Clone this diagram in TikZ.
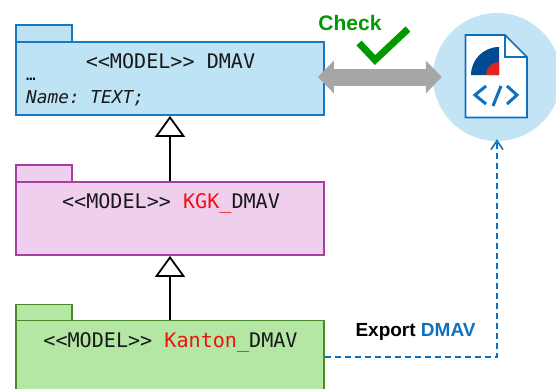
\documentclass[tikz,border=0pt]{standalone}
\usepackage{fontspec}
\setmainfont{Liberation Sans}
\setmonofont{DejaVu Sans Mono}
\usetikzlibrary{arrows.meta}
\definecolor{bluefill}{HTML}{BEE3F5}
\definecolor{blueline}{HTML}{1878C0}
\definecolor{pinkfill}{HTML}{F0CFEE}
\definecolor{pinkline}{HTML}{A83FA0}
\definecolor{greenfill}{HTML}{B4E6A4}
\definecolor{greenline}{HTML}{4A8A2E}
\definecolor{circfill}{HTML}{C2E4F5}
\definecolor{checkgreen}{HTML}{009900}
\definecolor{arrgray}{HTML}{A6A6A6}
\definecolor{logoblue}{HTML}{004B91}
\definecolor{logored}{HTML}{E02424}
\definecolor{textred}{HTML}{F01010}
\definecolor{exportblue}{HTML}{0F70BE}
\tikzset{
  pkgbody/.style={draw=#1,line width=1.8pt,minimum width=308pt,minimum height=73pt,inner sep=0pt,rectangle},
  pkgtab/.style={draw=#1,line width=1.8pt,minimum width=56pt,minimum height=17pt,inner sep=0pt,rectangle},
  modeltext/.style={font=\ttfamily\fontsize{20.1}{24}\selectfont,inner sep=0pt,anchor=base,text=black!90},
  inherit/.style={draw=black,line width=1.8pt,-{Triangle[open,length=21pt,width=30pt,fill=white,line width=1.8pt]}},
  docline/.style={draw=exportblue,line width=1.6pt,line join=miter},
  codeline/.style={draw=exportblue,line width=3pt},
}
\begin{document}
\begin{tikzpicture}[x=1pt,y=-1pt]
\useasboundingbox (0,0) rectangle (556,388);
\clip (0,0) rectangle (556,388);
% packages
\node[pkgtab=blueline,fill=bluefill] (bluetab) at (44,33.5) {};
\node[pkgbody=blueline,fill=bluefill] (bluebox) at (170,78.5) {};
\node[pkgtab=pinkline,fill=pinkfill] (pinktab) at (44,173.5) {};
\node[pkgbody=pinkline,fill=pinkfill] (pinkbox) at (170,218.5) {};
\node[pkgtab=greenline,fill=greenfill] (greentab) at (44,313) {};
\node[pkgbody=greenline,fill=greenfill] (greenbox) at (170,357) {};
% texts
\node[modeltext] (bluetitle) at (170.5,68) {<{}<MODEL>{}> DMAV};
\node[inner sep=0pt,anchor=base west,font=\ttfamily\fontsize{16}{18}\selectfont] (dots) at (26,80) {…};
\node[inner sep=0pt,anchor=west,font=\ttfamily\itshape\fontsize{17.8}{21}\selectfont,text=black!90] (nametext) at (26,98) {Name: TEXT;};
\node[modeltext] (pinktitle) at (171,208) {<{}<MODEL>{}> \textcolor{textred}{KGK\_}DMAV};
\node[modeltext] (greentitle) at (170.5,347) {<{}<MODEL>{}> \textcolor{textred}{Kanton\_}DMAV};
% inheritance
\draw[inherit] (pinkbox.north) -- (bluebox.south);
\draw[inherit] (greenbox.north) -- (pinkbox.south);
% circle with document
\node[circle,fill=circfill,minimum size=128pt,inner sep=0pt] (filecircle) at (497,77) {};
\filldraw[docline,fill=white] (465.5,35) -- (505,35) -- (527,57) -- (527,117.5) -- (465.5,117.5) -- cycle;
\draw[docline] (505,35) -- (505,57) -- (527,57);
\fill[logoblue] (499,75) -- (471,75) arc[start angle=180,end angle=270,radius=28] -- cycle;
\fill[logored] (499,75) -- (486,75) arc[start angle=180,end angle=270,radius=13] -- cycle;
\draw[codeline] (486,86) -- (475,95) -- (486,104);
\draw[codeline] (501,86) -- (493,106);
\draw[codeline] (507,86) -- (517,95) -- (507,104);
% check arrow
\draw[draw=arrgray,line width=17pt,{Triangle[length=16pt,width=32pt]}-{Triangle[length=16pt,width=32pt]},shorten <=-7pt,shorten >=-9pt] (bluebox.east |- filecircle.west) -- (filecircle.west);
\node[inner sep=0pt,font=\bfseries\fontsize{21}{24}\selectfont,text=checkgreen] (checklabel) at (350,23) {Check};
\coordinate (checka) at (359,43);
\coordinate (checkb) at (375,60);
\coordinate (checkc) at (408,29);
\draw[draw=checkgreen,line width=7pt] (checka) -- (checkb) -- (checkc);
% export
\draw[draw=exportblue,line width=1.8pt,dash pattern=on 6pt off 4pt,-{Straight Barb[length=9pt,width=12pt,line width=1.6pt]},shorten >=-2pt] (greenbox.east) -| (filecircle.south);
\node[inner sep=0pt,font=\bfseries\fontsize{19}{22}\selectfont] (exportlabel) at (415.5,332) {Export \textcolor{exportblue}{DMAV}};
\end{tikzpicture}
\end{document}
